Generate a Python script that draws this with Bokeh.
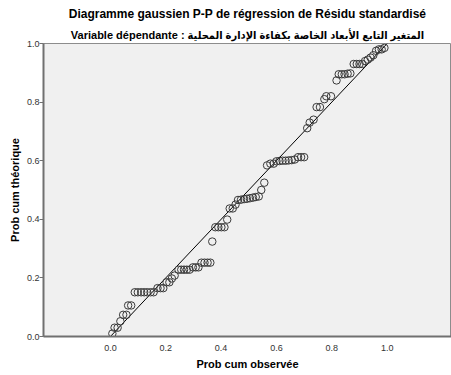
from bokeh.plotting import figure
from bokeh.models import Range1d, Title, FixedTicker
from bokeh.embed import file_html
from bokeh.resources import INLINE

title_text = "Diagramme gaussien P-P de régression de Résidu standardisé"
subtitle_text = "Variable dépendante : المتغير التابع الأبعاد الخاصة بكفاءة الإدارة المحلية"
x_label = "Prob cum observée"
y_label = "Prob cum théorique"
tick_values = [0.0, 0.2, 0.4, 0.6, 0.8, 1.0]

obs_cum = [0.007, 0.015, 0.026, 0.036, 0.046, 0.058, 0.064, 0.075,
           0.088, 0.099, 0.111, 0.122, 0.133, 0.145, 0.156,
           0.170, 0.181, 0.191, 0.203, 0.213, 0.222, 0.232,
           0.246, 0.256, 0.266, 0.276, 0.286, 0.298, 0.308, 0.318,
           0.329, 0.340, 0.351, 0.361, 0.368,
           0.379, 0.390, 0.401, 0.412, 0.422, 0.431, 0.442, 0.452,
           0.461, 0.472, 0.483, 0.493, 0.504, 0.515, 0.525, 0.536,
           0.545, 0.556, 0.566, 0.578, 0.590,
           0.600, 0.611, 0.622, 0.633, 0.644, 0.655, 0.666,
           0.678, 0.689, 0.700, 0.711, 0.720, 0.734, 0.745, 0.757,
           0.773, 0.780, 0.797, 0.817,
           0.825, 0.836, 0.846, 0.857, 0.867,
           0.879, 0.890, 0.900, 0.910,
           0.920, 0.930, 0.940, 0.950,
           0.960, 0.970, 0.980, 0.990]
theo_cum = [0.010, 0.030, 0.030, 0.052, 0.074, 0.074, 0.106, 0.106,
            0.151, 0.151, 0.151, 0.151, 0.151, 0.151, 0.151,
            0.165, 0.165, 0.165, 0.185, 0.185, 0.198, 0.208,
            0.228, 0.228, 0.228, 0.228, 0.228, 0.236, 0.236, 0.236,
            0.252, 0.252, 0.252, 0.252, 0.324,
            0.373, 0.373, 0.373, 0.373, 0.399, 0.437, 0.437, 0.450,
            0.466, 0.467, 0.469, 0.470, 0.472, 0.474, 0.476, 0.478,
            0.500, 0.525, 0.584, 0.590, 0.590,
            0.598, 0.599, 0.600, 0.600, 0.601, 0.602, 0.604,
            0.612, 0.612, 0.612, 0.711, 0.730, 0.740, 0.783, 0.783,
            0.810, 0.820, 0.820, 0.874,
            0.895, 0.895, 0.895, 0.897, 0.898,
            0.930, 0.930, 0.930, 0.930,
            0.940, 0.945, 0.952, 0.960,
            0.975, 0.980, 0.980, 0.985]
ref_line = [0.0, 1.0]

p = figure(width=451, height=375, output_backend="svg", toolbar_location=None,
           x_range=Range1d(-0.2418, 1.2324), y_range=Range1d(0.0, 1.0),
           min_border_left=43, min_border_right=0, min_border_top=43, min_border_bottom=39)

p.background_fill_color = "#f0f0f0"
p.border_fill_color = "white"
p.outline_line_color = "#8c8c8c"
p.outline_line_width = 1
p.grid.visible = False

p.title.text = title_text
p.title.align = "center"
p.title.text_font = "Liberation Sans"
p.title.text_font_style = "bold"
p.title.text_font_size = "12px"
p.title.text_color = "#000000"
p.title.offset = 0
p.title.standoff = 5
p.add_layout(Title(text=subtitle_text, align="center",
                   text_font="'Liberation Sans', 'DejaVu Sans Condensed', 'DejaVu Sans'",
                   text_font_style="bold", text_font_size="11px", text_color="#000000",
                   standoff=6), "above")

p.line(ref_line, ref_line, line_color="#000000", line_width=1)
p.scatter(obs_cum, theo_cum, size=7.5, marker="circle", fill_color=None,
          line_color="#3a3a3a", line_width=1)

for ax in (p.xaxis[0], p.yaxis[0]):
    ax.ticker = FixedTicker(ticks=tick_values)
    ax.major_label_text_font = "Liberation Sans"
    ax.major_label_text_font_size = "9px"
    ax.major_label_text_color = "#333333"
    ax.axis_label_text_font = "Liberation Sans"
    ax.axis_label_text_font_style = "bold"
    ax.axis_label_text_font_size = "11px"
    ax.axis_label_text_color = "#000000"
    ax.axis_line_color = "#707070"
    ax.axis_line_width = 2
    ax.major_tick_line_color = "#707070"
    ax.major_tick_in = 0
    ax.major_tick_out = 4
    ax.minor_tick_line_color = None

p.xaxis[0].axis_label = x_label
p.yaxis[0].axis_label = y_label
p.xaxis[0].major_tick_out = 0
p.xaxis[0].major_label_standoff = 8
p.xaxis[0].axis_label_standoff = 4
p.yaxis[0].major_label_standoff = 0
p.yaxis[0].axis_label_standoff = 3
p.xaxis[0].major_label_overrides = {v: f"{v:.1f}" for v in tick_values}
p.yaxis[0].major_label_overrides = {v: f"{v:.1f}" for v in tick_values}

open("out.html", "w").write(file_html(p, INLINE))
